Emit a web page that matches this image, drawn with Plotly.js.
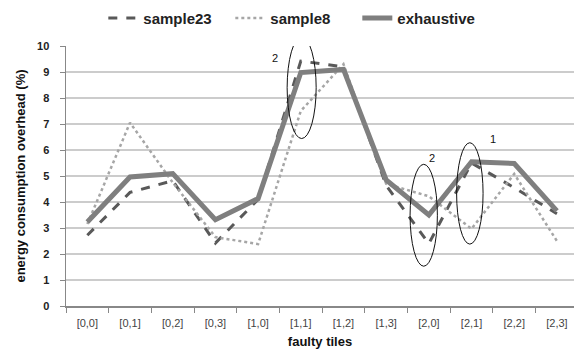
<!DOCTYPE html>
<html>
<head>
<meta charset="utf-8">
<script src="https://cdn.plot.ly/plotly-3.0.1.min.js"></script>
<style>html,body{margin:0;padding:0;background:#fff;}#chart{width:574px;height:349px;}</style>
</head>
<body>
<div id="chart"></div>
<script>
const categories = ["[0,0]","[0,1]","[0,2]","[0,3]","[1,0]","[1,1]","[1,2]","[1,3]","[2,0]","[2,1]","[2,2]","[2,3]"];
const sample23 = [2.72, 4.37, 4.82, 2.42, 4.1, 9.42, 9.2, 4.64, 2.4, 5.5, 4.55, 3.55];
const sample8 = [3.15, 7.05, 4.75, 2.65, 2.38, 7.5, 9.3, 4.7, 4.22, 2.97, 5.08, 2.5];
const exhaustive = [3.23, 4.96, 5.09, 3.32, 4.13, 8.98, 9.1, 4.85, 3.5, 5.55, 5.48, 3.66];
const yTicks = [0,1,2,3,4,5,6,7,8,9,10];

const traces = [
  {x: categories, y: sample23, name: "sample23", type: "scatter", mode: "lines",
   line: {color: "#595959", width: 3, dash: "dash"}},
  {x: categories, y: sample8, name: "sample8", type: "scatter", mode: "lines",
   line: {color: "#a6a6a6", width: 2.5, dash: "dot"}},
  {x: categories, y: exhaustive, name: "exhaustive", type: "scatter", mode: "lines",
   line: {color: "#7f7f7f", width: 5}}
];

const ellipse = (x0, x1, y0, y1) => ({type: "circle", xref: "x", yref: "y", x0, x1, y0, y1,
  line: {color: "#111", width: 1}, fillcolor: "rgba(0,0,0,0)"});

const layout = {
  width: 574, height: 349,
  margin: {l: 66, r: 0, t: 46, b: 43},
  paper_bgcolor: "#fff", plot_bgcolor: "#fff",
  font: {family: "Liberation Sans, Arial, sans-serif", color: "#222"},
  showlegend: true,
  legend: {orientation: "h", xref: "container", x: 0.18, xanchor: "left",
    yref: "container", y: 0.995, yanchor: "top",
    entrywidth: 82, entrywidthmode: "pixels",
    font: {size: 15, color: "#222", family: "Liberation Sans, Arial, sans-serif", weight: "bold"},
    traceorder: "normal"},
  xaxis: {
    type: "category", range: [-0.5, 11.4],
    tickson: "boundaries", ticks: "outside", ticklen: 5, tickcolor: "#888",
    showgrid: false, showline: true, linecolor: "#888", linewidth: 1.5,
    tickfont: {size: 11, color: "#444"}, ticklabelstandoff: 6,
    title: {text: "faulty tiles", font: {size: 13, color: "#111", weight: "bold"}, standoff: 10}
  },
  yaxis: {
    range: [0, 10], tickvals: yTicks, ticktext: yTicks.map(String),
    ticks: "outside", ticklen: 5, tickcolor: "#888",
    showgrid: true, gridcolor: "#cccccc", gridwidth: 1.5,
    showline: true, linecolor: "#888", linewidth: 1.5, zeroline: false,
    tickfont: {size: 11, color: "#222", weight: "bold"}, ticklabelstandoff: 8,
    title: {text: "energy consumption overhead (%)", font: {size: 13, color: "#111", weight: "bold"}, standoff: 8}
  },
  shapes: [
    ellipse(4.68, 5.36, 6.44, 10.35),
    ellipse(7.56, 8.2, 1.53, 5.45),
    ellipse(8.65, 9.27, 2.38, 6.28)
  ],
  annotations: [
    {x: 4.4, y: 9.55, xref: "x", yref: "y", text: "2", showarrow: false, font: {size: 11, color: "#111"}},
    {x: 8.07, y: 5.71, xref: "x", yref: "y", text: "2", showarrow: false, font: {size: 11, color: "#111"}},
    {x: 9.51, y: 6.44, xref: "x", yref: "y", text: "1", showarrow: false, font: {size: 11, color: "#111"}}
  ]
};

Plotly.newPlot("chart", traces, layout, {displayModeBar: false, staticPlot: true});
</script>
</body>
</html>
